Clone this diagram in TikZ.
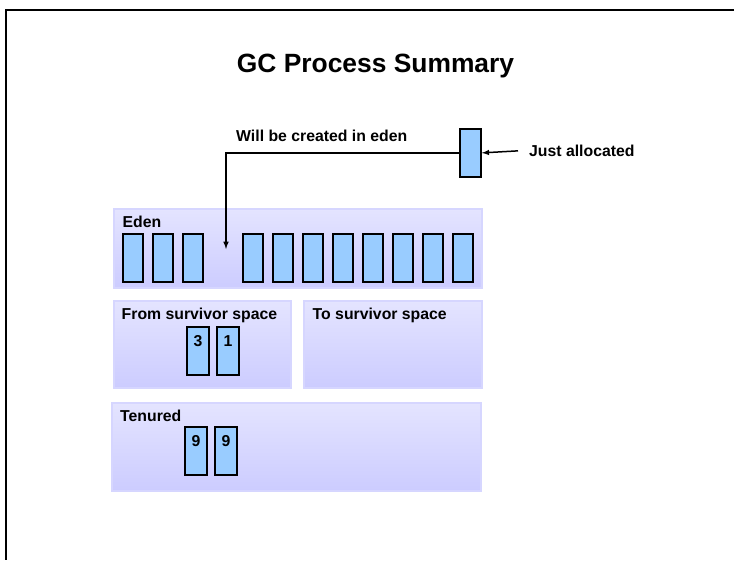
\documentclass[tikz,border=0pt]{standalone}
\usepackage{fontspec}
\setmainfont{Liberation Sans}
\usetikzlibrary{positioning}
\definecolor{blockblue}{RGB}{153,204,255}
\definecolor{regiontop}{RGB}{228,228,255}
\definecolor{regionbot}{RGB}{204,204,255}
\definecolor{regionedge}{RGB}{214,214,255}
\tikzset{>=latex}
\tikzstyle{region} = [rectangle, draw=regionedge, line width=1.5pt, top color=regiontop, bottom color=regionbot, anchor=north west, inner sep=0pt]
\tikzstyle{block} = [rectangle, draw=black, line width=1.8pt, fill=blockblue, anchor=north west, inner sep=0pt, minimum width=20pt, minimum height=48pt]
\tikzstyle{lbl} = [font=\fontsize{15.8}{18}\selectfont\bfseries, inner sep=0pt]
\tikzstyle{num} = [lbl, anchor=north, yshift=-9pt]
\tikzstyle{arrow} = [line width=1.5pt, ->]

\begin{document}
\begin{tikzpicture}[x=1pt, y=-1pt]

\def \pitch {30}
\def \edentop {233}

\useasboundingbox (0,0) rectangle (739,560);
\draw[line width=1.2pt] (734,10) -- (6,10) -- (6,560);

\node[font=\fontsize{26.4}{30}\selectfont\bfseries, inner sep=0pt] (title) at (375.5,66) {GC Process Summary};

% the four regions of the heap
\node[region, minimum width=368pt, minimum height=79pt] (eden) at (113,208) {};
\node[region, minimum width=177pt, minimum height=87pt] (from) at (113,300) {};
\node[region, minimum width=178pt, minimum height=87pt] (to) at (303,300) {};
\node[region, minimum width=369pt, minimum height=88pt] (tenured) at (111,402) {};

\node[lbl, anchor=base west] (edenlbl) at (122.5,227) {Eden};
\node[lbl, anchor=base west] (fromlbl) at (121.5,319) {From survivor\ space};
\node[lbl, anchor=base west] (tolbl) at (312.5,319) {To survivor\ space};
\node[lbl, anchor=base west] (tenuredlbl) at (120,421) {Tenured};

% objects in eden
\foreach \i in {0,1,2}
  \node[block] (e\i) at ({122+\pitch*\i},\edentop) {};
\foreach \i in {0,...,7}
  \node[block] (f\i) at ({242+\pitch*\i},\edentop) {};

% survivors and tenured objects
\node[block, minimum width=22pt] (s3) at (186,326) [label={[num]north:3}] {};
\node[block, minimum width=22pt] (s1) at (216,326) [label={[num]north:1}] {};
\node[block, minimum width=22pt] (t1) at (184,426) [label={[num]north:9}] {};
\node[block, minimum width=22pt] (t2) at (214,426) [label={[num]north:9}] {};

% the new object
\node[block, minimum width=21pt] (alloc) at (459,128) {};
\node[lbl, anchor=base west] (justlbl) at (529,156.5) {Just allocated};
\draw[arrow] ([xshift=-11pt]justlbl.west) -- (alloc.east);

\coordinate (slot) at (226,249);
\draw[arrow] (alloc.west) -| (slot);
\node[lbl, anchor=base west] (willlbl) at (236,141) {Will be created in eden};

\end{tikzpicture}
\end{document}
